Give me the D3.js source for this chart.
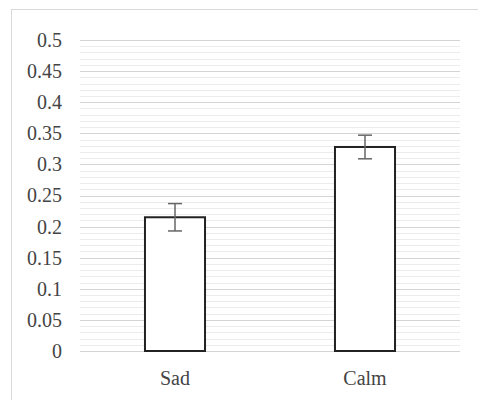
<!DOCTYPE html>
<html>
<head>
<meta charset="utf-8">
<script src="https://cdn.jsdelivr.net/npm/d3@7"></script>
<style>
  body { margin: 0; background: #fff; }
  svg { display: block; }
  .lbl text { font-family: 'Liberation Serif', 'DejaVu Serif', serif; font-size: 20px; fill: #444; }
</style>
</head>
<body>
<svg id="chart"></svg>
<script>
// DATA
const categories = ['Sad', 'Calm'];
const means = [0.215, 0.328];
const errors = [0.022, 0.019];
const yTicks = [0, 0.05, 0.1, 0.15, 0.2, 0.25, 0.3, 0.35, 0.4, 0.45, 0.5];
const yTickLabels = ['0', '0.05', '0.1', '0.15', '0.2', '0.25', '0.3', '0.35', '0.4', '0.45', '0.5'];
const minorTicks = d3.range(0, 51).map(i => i / 100);

const width = 478, height = 400;
const margin = { top: 40, right: 18, bottom: 49, left: 80 };

const svg = d3.select('#chart')
    .attr('width', width)
    .attr('height', height);

// outer frame
svg.append('rect')
    .attr('x', 11.5).attr('y', 9.5)
    .attr('width', width + 10).attr('height', height + 10)
    .attr('fill', 'none')
    .attr('stroke', '#d9d9d9');

const x = d3.scaleBand()
    .domain(categories)
    .range([margin.left, width - margin.right])
    .paddingInner(0.684)
    .paddingOuter(0.342);

const y = d3.scaleLinear()
    .domain([0, 0.5])
    .range([height - margin.bottom, margin.top]);

// minor gridlines
svg.append('g')
    .selectAll('line')
    .data(minorTicks)
    .enter().append('line')
    .attr('x1', margin.left).attr('x2', width - margin.right)
    .attr('y1', d => Math.round(y(d)) + 0.5)
    .attr('y2', d => Math.round(y(d)) + 0.5)
    .attr('stroke', '#ececec');

// major gridlines
svg.append('g')
    .selectAll('line')
    .data(yTicks)
    .enter().append('line')
    .attr('x1', margin.left).attr('x2', width - margin.right)
    .attr('y1', d => Math.round(y(d)) + 0.5)
    .attr('y2', d => Math.round(y(d)) + 0.5)
    .attr('stroke', '#d4d4d4');

// y axis labels
const yAxis = d3.axisLeft(y)
    .tickValues(yTicks)
    .tickFormat((d, i) => yTickLabels[i])
    .tickSize(0)
    .tickPadding(18);

svg.append('g')
    .attr('class', 'lbl')
    .attr('font-family', null)
    .attr('transform', `translate(${margin.left},0)`)
    .call(yAxis)
    .call(g => g.select('.domain').remove())
    .call(g => g.attr('font-family', null).attr('font-size', null));

// x axis labels
const xAxis = d3.axisBottom(x).tickSize(0).tickPadding(20);
svg.append('g')
    .attr('class', 'lbl')
    .attr('transform', `translate(0,${height - margin.bottom})`)
    .call(xAxis)
    .call(g => g.select('.domain').remove())
    .call(g => g.attr('font-family', null).attr('font-size', null));

// bars
svg.append('g')
    .selectAll('rect')
    .data(categories)
    .enter().append('rect')
    .attr('x', d => x(d))
    .attr('y', (d, i) => y(means[i]))
    .attr('width', x.bandwidth())
    .attr('height', (d, i) => y(0) - y(means[i]))
    .attr('fill', '#fff')
    .attr('stroke', '#222')
    .attr('stroke-width', 2);

// error bars
const err = svg.append('g')
    .attr('stroke', '#666')
    .attr('stroke-width', 1.5);

categories.forEach((c, i) => {
    const cx = x(c) + x.bandwidth() / 2;
    const top = y(means[i] + errors[i]);
    const bot = y(means[i] - errors[i]);
    err.append('line').attr('x1', cx).attr('x2', cx).attr('y1', top).attr('y2', bot);
    err.append('line').attr('x1', cx - 7).attr('x2', cx + 7).attr('y1', top).attr('y2', top);
    err.append('line').attr('x1', cx - 7).attr('x2', cx + 7).attr('y1', bot).attr('y2', bot);
});
</script>
</body>
</html>
